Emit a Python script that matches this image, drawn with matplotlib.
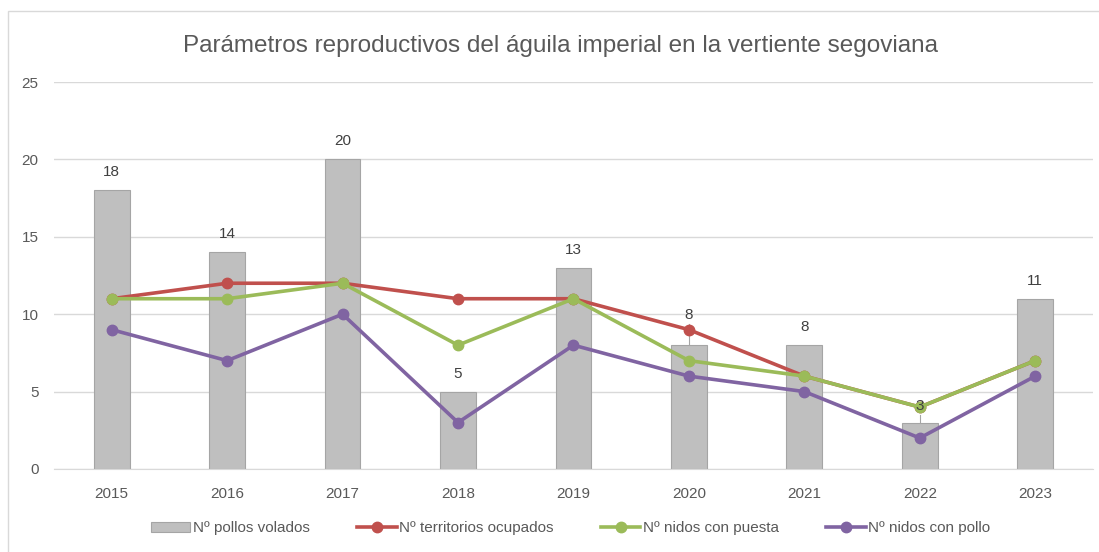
import matplotlib.pyplot as plt
from matplotlib.patches import Rectangle
import numpy as np

# --- Data ---
years = ["2015", "2016", "2017", "2018", "2019", "2020", "2021", "2022", "2023"]
pollos_volados = [18, 14, 20, 5, 13, 8, 8, 3, 11]
territorios_ocupados = [11, 12, 12, 11, 11, 9, 6, 4, 7]
nidos_con_puesta = [11, 11, 12, 8, 11, 7, 6, 4, 7]
nidos_con_pollo = [9, 7, 10, 3, 8, 6, 5, 2, 6]

# --- Style ---
text_col = "#595959"
grid_col = "#D9D9D9"
bar_col = "#BFBFBF"
red = "#C0504D"
green = "#9BBB59"
purple = "#8064A2"
plt.rcParams["font.family"] = ["Liberation Sans", "DejaVu Sans"]

fig = plt.figure(figsize=(10.99, 5.52), dpi=100)
ax = fig.add_axes([0.0491, 0.1504, 0.9454, 0.701])

# chart border (left and top edges visible)
fig.patches.append(Rectangle((8 / 1099, -0.1), 1.2, 1 - 11 / 552 + 0.1,
                             transform=fig.transFigure, fill=False,
                             edgecolor=grid_col, linewidth=1.0))

x = np.arange(len(years))
bars = ax.bar(x, pollos_volados, width=0.31, color=bar_col, edgecolor="#A5A5A5",
              linewidth=0.8, label="Nº pollos volados", zorder=2)
lw, ms = 2.6, 7.5
l1, = ax.plot(x, territorios_ocupados, color=red, lw=lw, marker="o", ms=ms,
              label="Nº territorios ocupados", zorder=3)
l2, = ax.plot(x, nidos_con_puesta, color=green, lw=lw, marker="o", ms=ms,
              label="Nº nidos con puesta", zorder=4)
l3, = ax.plot(x, nidos_con_pollo, color=purple, lw=lw, marker="o", ms=ms,
              label="Nº nidos con pollo", zorder=5)

# data labels for the bars (two were moved in the original)
moved = {5: 9.95, 7: 4.07}
for i, v in enumerate(pollos_volados):
    if i in moved:
        ly = moved[i]
        ax.text(i, ly, str(v), ha="center", va="center", fontsize=11,
                color="#404040", zorder=6)
        if ly - v > 1:
            ax.plot([i, i], [v, ly - 0.6], color="#A5A5A5", lw=0.8, zorder=1)
    else:
        ax.annotate(str(v), (i, v), xytext=(0, 13), textcoords="offset points",
                    ha="center", va="center", fontsize=11, color="#404040")

ax.set_xlim(-0.5, len(years) - 0.5)
ax.set_ylim(0, 25)
ax.set_yticks([0, 5, 10, 15, 20, 25])
ax.set_xticks(x)
ax.set_xticklabels(years)
ax.grid(axis="y", color=grid_col, linewidth=1.0, zorder=0)
ax.set_axisbelow(True)
for s in ["top", "right", "left"]:
    ax.spines[s].set_visible(False)
ax.spines["bottom"].set_color(grid_col)
ax.tick_params(axis="both", length=0, labelsize=11, colors=text_col)
ax.tick_params(axis="x", pad=13)
ax.tick_params(axis="y", pad=11)

fig.text(0.51, 0.916, "Parámetros reproductivos del águila imperial en la vertiente segoviana",
         ha="center", va="center", fontsize=17.5, color=text_col)

fig.legend(handles=[bars, l1, l2, l3], loc="center", bbox_to_anchor=(0.519, 0.043),
           ncol=4, frameon=False, fontsize=11, labelcolor=text_col,
           handlelength=2.6, handleheight=0.65, handletextpad=0.15,
           columnspacing=3.1)

fig.savefig("out.png", dpi=100)
